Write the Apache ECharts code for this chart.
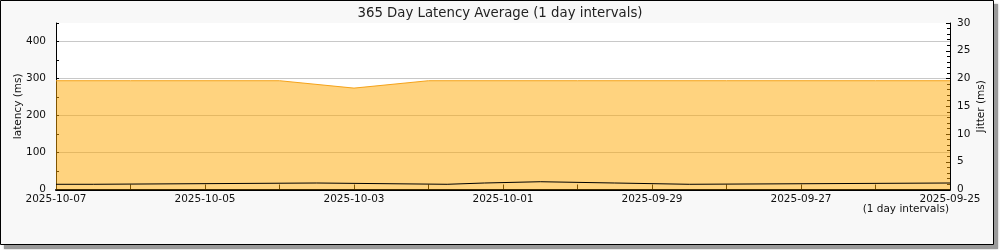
<!DOCTYPE html>
<html>
<head>
<meta charset="utf-8">
<script src="https://cdn.jsdelivr.net/npm/echarts@6/dist/echarts.min.js"></script>
<style>
html,body{margin:0;padding:0;background:#fff;}
#c{width:1000px;height:250px;}
</style>
</head>
<body>
<div id="c"></div>
<script>
// ---- data ----
const titleText = '365 Day Latency Average (1 day intervals)';
const days = ['2025-10-07','2025-10-06','2025-10-05','2025-10-04','2025-10-03','2025-10-02','2025-10-01',
              '2025-09-30','2025-09-29','2025-09-28','2025-09-27','2025-09-26','2025-09-25'];
const latency = [294,294,294,294,274,294,294,294,294,294,294,294,294];
// jitter: each value holds from its start time until the next start time
const jitterTimes = ['2025-10-07T00:00:00Z','2025-10-06T12:00:00Z','2025-10-03T12:00:00Z','2025-10-01T18:00:00Z',
                     '2025-10-01T06:00:00Z','2025-09-30T12:00:00Z','2025-09-29T12:00:00Z','2025-09-28T12:00:00Z',
                     '2025-09-25T00:00:00Z'];
const jitterValues = [0.94,1.17,0.94,1.17,1.4,1.17,0.94,1.17,1.17];

const DAY = 86400000;
const ts = s => Date.parse(s.length === 10 ? s + 'T00:00:00Z' : s);
const xMin = ts(days[days.length - 1]);
const xMax = ts(days[0]);
const fmtDate = v => new Date(v).toISOString().slice(0, 10);
const FONT = 'DejaVu Sans';

// build held-value (step) series from the segment arrays
const jitterData = [];
for (let i = 0; i < jitterTimes.length - 1; i++) {
  jitterData.push([ts(jitterTimes[i]), jitterValues[i]]);
  jitterData.push([ts(jitterTimes[i + 1]), jitterValues[i]]);
}

const chart = echarts.init(document.getElementById('c'), null, {renderer: 'canvas'});
chart.setOption({
  animation: false,
  backgroundColor: 'transparent',
  title: {
    text: titleText, left: 'center', top: 2,
    textStyle: {fontFamily: FONT, fontSize: 13.3, fontWeight: 'normal', color: '#222'}
  },
  graphic: [
    {type: 'rect', z: -110, silent: true, shape: {x: 4, y: 4, width: 994, height: 245},
     style: {fill: '#9a9a9a', shadowBlur: 2, shadowColor: 'rgba(0,0,0,0.3)'}},
    {type: 'rect', z: -100, silent: true, shape: {x: 0.5, y: 0.5, width: 993, height: 244},
     style: {fill: '#f8f8f8', stroke: '#000', lineWidth: 1}},
    {type: 'text', z: 10, silent: true, x: 949, y: 209,
     style: {text: '(1 day intervals)', fontFamily: FONT, fontSize: 10.5, fill: '#111', align: 'right', verticalAlign: 'middle'}}
  ],
  grid: {left: 56, top: 23, width: 894, height: 166.5, show: true, backgroundColor: '#fff', borderWidth: 0,
         containLabel: false, outerBoundsMode: 'none'},
  xAxis: {
    type: 'value', min: xMin, max: xMax, interval: DAY, inverse: true,
    axisLine: {show: true, lineStyle: {color: '#000', width: 2}},
    axisTick: {show: true, inside: true, length: 5, lineStyle: {color: '#000', width: 1}},
    splitLine: {show: false},
    axisLabel: {
      margin: 4, fontFamily: FONT, fontSize: 10.5, color: '#111', hideOverlap: false,
      formatter: v => (Math.round((xMax - v) / DAY) % 2 === 0 ? fmtDate(v) : '')
    }
  },
  yAxis: [
    {
      type: 'value', min: 0, max: 450, interval: 50, position: 'left',
      name: 'latency (ms)', nameLocation: 'middle', nameRotate: 90, nameGap: 32, nameMoveOverlap: false,
      nameTextStyle: {fontFamily: FONT, fontSize: 10.5, color: '#111'},
      axisLine: {show: true, lineStyle: {color: '#000', width: 1}},
      axisTick: {show: true, inside: true, length: 3, lineStyle: {color: '#000'}},
      axisLabel: {margin: 10, fontFamily: FONT, fontSize: 10.5, color: '#111',
                  formatter: v => (v % 100 === 0 ? String(v) : '')},
      splitLine: {show: true, lineStyle: {color: ['#c8c8c8', 'transparent'], width: 1}}
    },
    {
      type: 'value', min: 0, max: 30, interval: 5, position: 'right',
      name: 'Jitter (ms)', nameLocation: 'middle', nameRotate: 90, nameGap: 26, nameMoveOverlap: false,
      nameTextStyle: {fontFamily: FONT, fontSize: 10.5, color: '#111'},
      axisLine: {show: true, lineStyle: {color: '#000', width: 1}},
      axisTick: {show: true, inside: true, length: 4, lineStyle: {color: '#000'}},
      minorTick: {show: true, splitNumber: 5, length: 3, lineStyle: {color: '#000'}},
      axisLabel: {margin: 7, fontFamily: FONT, fontSize: 10.5, color: '#111'},
      splitLine: {show: false}
    }
  ],
  series: [
    {
      name: 'latency', type: 'line', yAxisIndex: 0, symbol: 'none', smooth: false,
      data: days.map((d, i) => [ts(d), latency[i]]),
      lineStyle: {color: '#f5a31a', width: 1},
      areaStyle: {color: 'rgba(255,168,0,0.5)', opacity: 1},
      z: 2
    },
    {
      name: 'jitter', type: 'line', yAxisIndex: 1, symbol: 'none',
      data: jitterData,
      lineStyle: {color: '#000', width: 1},
      z: 3
    }
  ]
});
</script>
</body>
</html>
